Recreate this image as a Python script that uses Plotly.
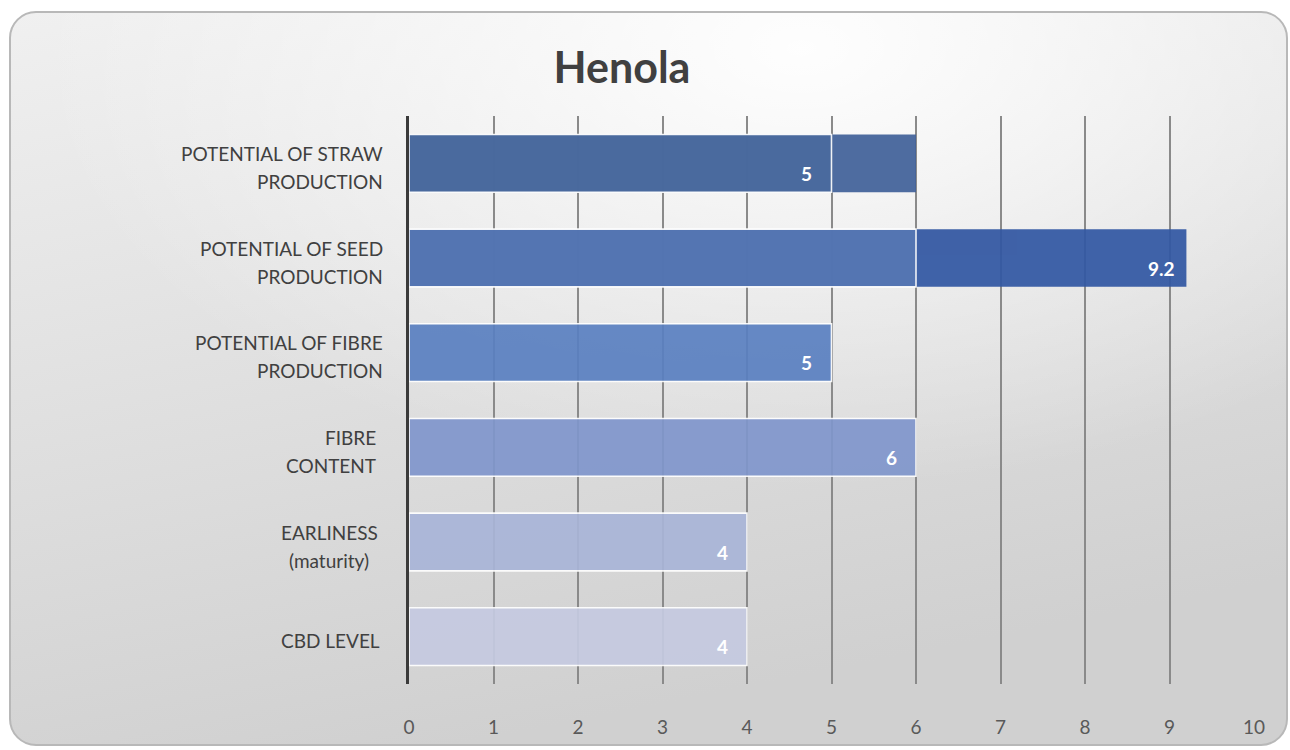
import base64
import plotly.graph_objects as go

# ---------------- data ----------------
categories = ["Straw", "Seed", "Fibre production", "Fibre content", "Earliness", "CBD"]
category_lines = [
    ["POTENTIAL OF STRAW", "PRODUCTION"],
    ["POTENTIAL OF SEED", "PRODUCTION"],
    ["POTENTIAL OF FIBRE", "PRODUCTION"],
    ["FIBRE", "CONTENT"],
    ["EARLINESS", "(maturity)"],
    ["CBD LEVEL"],
]
front_values = [5, 6, 5, 6, 4, 4]
front_labels = ["5", "", "5", "6", "4", "4"]
back_categories = ["Straw", "Seed"]
back_values = [6, 9.2]
back_labels = ["", "9.2"]
x_ticks = [0, 1, 2, 3, 4, 5, 6, 7, 8, 9, 10]
title_text = "Henola"

# ---------------- styles ----------------
front_colors = ["#4A6A9E", "#5677B3", "#5A80C1", "#8096CC", "#A9B5D8", "#C5CAE1"]
back_colors = ["#42629A", "#3257A2"]
label_gap = [24, 24, 24, 31, 30, 27]
label_align = ["right", "right", "right", "right", "center", "right"]
W, H = 1290, 750
ML, MR, MT, MB = 409, 36, 116, 66
PW, PH = W - ML - MR, H - MT - MB
FONT = "Lato"

svg = f'''<svg xmlns="http://www.w3.org/2000/svg" width="{W}" height="{H}" viewBox="0 0 {W} {H}">
<defs>
<linearGradient id="lg" x1="0" y1="0" x2="0.35" y2="1">
<stop offset="0" stop-color="#f0f0f0"/><stop offset="1" stop-color="#d0d0d0"/>
</linearGradient>
<radialGradient id="rg" cx="0.62" cy="0.05" r="0.6">
<stop offset="0" stop-color="#ffffff" stop-opacity="0.95"/>
<stop offset="1" stop-color="#ffffff" stop-opacity="0"/>
</radialGradient>
</defs>
<rect x="10" y="12" width="1277" height="733" rx="26" ry="26" fill="url(#lg)"/>
<rect x="10" y="12" width="1277" height="733" rx="26" ry="26" fill="url(#rg)" stroke="#b8b8b8" stroke-width="2"/>
</svg>'''
bg_src = "data:image/svg+xml;base64," + base64.b64encode(svg.encode()).decode()

fig = go.Figure()
fig.add_trace(go.Bar(
    y=back_categories, x=back_values, orientation="h",
    marker=dict(color=back_colors, line=dict(width=0)), opacity=0.93,
    width=0.61, hoverinfo="x+y", showlegend=False,
))
fig.add_trace(go.Bar(
    y=categories, x=front_values, orientation="h",
    marker=dict(color=front_colors, line=dict(color="#ffffff", width=1.6)), opacity=0.92,
    width=0.61, hoverinfo="x+y", showlegend=False,
))

annotations = []
for cat, val, lab in list(zip(categories, front_values, front_labels)) + list(zip(back_categories, back_values, back_labels)):
    if lab:
        annotations.append(dict(
            x=val, y=cat, xref="x", yref="y", text=f"<b>{lab}</b>", showarrow=False,
            xanchor="center", yanchor="middle", xshift=-25, yshift=-10,
            font=dict(family=FONT, size=19, color="#ffffff"),
        ))
for cat, lines, gap, al in zip(categories, category_lines, label_gap, label_align):
    n = len(lines)
    text = "<br>".join(lines)
    # one annotation per line for the wider line spacing; align 'center' handled by common width
    if al == "center":
        # centre lines on the same axis: anchor each line's centre
        for i, line in enumerate(lines):
            off = (i - (n - 1) / 2) * 28 + 4
            annotations.append(dict(
                x=0, y=cat, xref="paper", yref="y", text=line, showarrow=False,
                xanchor="center", yanchor="middle", xshift=-gap - 50, yshift=-off,
                font=dict(family=FONT, size=19, color="#404040"),
            ))
    else:
        for i, line in enumerate(lines):
            off = (i - (n - 1) / 2) * 28 + 4
            annotations.append(dict(
                x=0, y=cat, xref="paper", yref="y", text=line, showarrow=False,
                xanchor="right", yanchor="middle", xshift=-gap, yshift=-off,
                font=dict(family=FONT, size=19, color="#404040"),
            ))

fig.update_layout(
    width=W, height=H,
    margin=dict(l=ML, r=MR, t=MT, b=MB),
    paper_bgcolor="#ffffff", plot_bgcolor="rgba(0,0,0,0)",
    barmode="overlay", bargap=0.39,
    title=dict(text=f"<b>{title_text}</b>", x=622 / W, xref="container", xanchor="center",
               y=1 - 68 / H, yref="container", yanchor="middle",
               font=dict(family=FONT, size=43, color="#404040")),
    xaxis=dict(range=[0, 10], tickmode="array", tickvals=x_ticks, ticktext=[str(t) for t in x_ticks],
               showgrid=True, gridcolor="#8a8a8a", gridwidth=2, zeroline=False,
               showline=False, ticks="", ticklabelstandoff=30,
               tickfont=dict(family=FONT, size=19, color="#595959"), fixedrange=True),
    yaxis=dict(categoryorder="array", categoryarray=categories, autorange="reversed",
               showticklabels=False, showgrid=False, zeroline=False,
               showline=True, linecolor="#3a3a3a", linewidth=3, ticks="", fixedrange=True),
    images=[dict(source=bg_src, xref="paper", yref="paper",
                 x=-ML / PW, y=1 + MT / PH, sizex=W / PW, sizey=H / PH,
                 xanchor="left", yanchor="top", sizing="stretch", layer="below")],
    annotations=annotations,
    font=dict(family=FONT),
)

fig.write_html("out.html", config={"displayModeBar": False},
               post_script="document.body.style.margin='0px';document.body.style.overflow='hidden';")
